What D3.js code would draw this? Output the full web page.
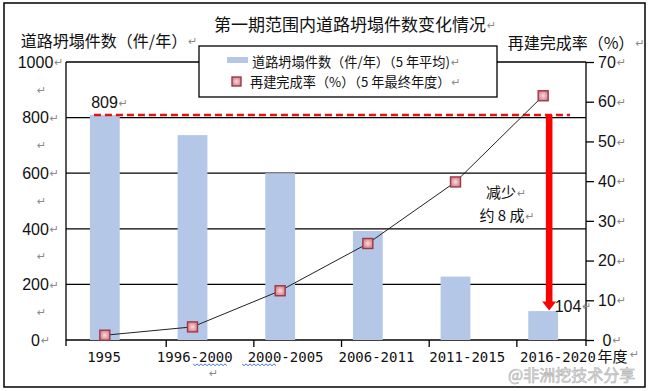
<!DOCTYPE html>
<html>
<head>
<meta charset="utf-8">
<script src="https://cdn.jsdelivr.net/npm/d3@7"></script>
<style>
  body { margin: 0; background: #fff; }
  svg text { font-family: "Liberation Sans", "Noto Sans CJK SC", sans-serif; fill: #111; }
  .cjk { font-family: "Noto Sans CJK SC", "Noto Sans CJK JP", sans-serif; }
  .mono { font-family: "DejaVu Sans Mono", "Noto Sans CJK SC", monospace; }
  .pil { fill: #8a8a8a; font-family: "DejaVu Sans", sans-serif; font-size: 11px; }
  .grid { stroke: #000; stroke-width: 1.3; }
</style>
</head>
<body>
<div id="chart"></div>
<script>
const categories = ["1995", "1996-2000", "2000-2005", "2006-2011", "2011-2015", "2016-2020"];
const collapseCounts = [809, 737, 600, 392, 228, 104];   // 件/年, 5年平均
const rebuildRates = [1.2, 3.3, 12.4, 24.3, 39.8, 61.5]; // %, 5年最終年度
const leftTicks = [0, 200, 400, 600, 800, 1000];
const leftBlankTicks = [100, 300, 500, 700, 900];
const rightTicks = [0, 10, 20, 30, 40, 50, 60, 70];

const width = 655, height = 391;
const plot = { left: 66, right: 586, top: 62, bottom: 340 };

const svg = d3.select("#chart").append("svg").attr("width", width).attr("height", height);

const defs = svg.append("defs");
const grad = defs.append("radialGradient").attr("id", "markerFill");
grad.append("stop").attr("offset", "0%").attr("stop-color", "#f8dadc");
grad.append("stop").attr("offset", "100%").attr("stop-color", "#d9848e");

// outer frame
svg.append("rect")
  .attr("x", 4).attr("y", 3).attr("width", 641).attr("height", 384)
  .attr("fill", "none").attr("stroke", "#000").attr("stroke-width", 1.5);

const x = d3.scaleBand().domain(categories).range([61, 587]).paddingInner(0.66).paddingOuter(0.33);
const xLabel = d3.scalePoint().domain(categories).range([104, 558]);
const yL = d3.scaleLinear().domain([0, 1000]).range([plot.bottom, plot.top]);
const yR = d3.scaleLinear().domain([0, 70]).range([plot.bottom, plot.top]);

// gridlines
svg.append("g").selectAll("line").data(leftTicks).join("line")
  .attr("class", "grid")
  .attr("x1", plot.left).attr("x2", plot.right)
  .attr("y1", (d) => yL(d)).attr("y2", (d) => yL(d));

// bars
svg.append("g").selectAll("rect").data(categories).join("rect")
  .attr("x", (d) => x(d))
  .attr("y", (d, i) => yL(collapseCounts[i]))
  .attr("width", x.bandwidth())
  .attr("height", (d, i) => yL(0) - yL(collapseCounts[i]))
  .attr("fill", "#b4c7e7");

// axes lines
svg.append("line").attr("class", "grid")
  .attr("x1", plot.left).attr("x2", plot.left).attr("y1", plot.top).attr("y2", plot.bottom + 6);
svg.append("line").attr("class", "grid")
  .attr("x1", plot.right).attr("x2", plot.right).attr("y1", plot.top).attr("y2", plot.bottom + 6);

// bottom tick marks
const tickXs = categories.slice(0, 5).map((c) => x(c) + x.step() * 0.87);
svg.append("g").selectAll("line").data(tickXs).join("line")
  .attr("class", "grid")
  .attr("x1", (d) => d).attr("x2", (d) => d)
  .attr("y1", plot.bottom).attr("y2", plot.bottom + 7);

// right axis
const yAxisR = d3.axisRight(yR).tickValues(rightTicks).tickSize(8).tickFormat("");
const gR = svg.append("g").attr("transform", `translate(${plot.right},0)`).call(yAxisR);
gR.select(".domain").remove();
gR.selectAll("line").attr("stroke", "#000").attr("stroke-width", 1.3);

function withReturn(sel, cx, cy, txt, size, cls) {
  const t = sel.append("text")
    .attr("x", cx).attr("y", cy).attr("dy", "0.36em")
    .attr("text-anchor", "middle")
    .attr("font-size", size)
    .attr("class", cls || null)
    .text(txt);
  const w = t.node().getComputedTextLength();
  sel.append("text").attr("class", "pil")
    .attr("x", cx + w / 2 + 1).attr("y", cy).attr("dy", "0.38em").text("↵");
  return w;
}

const labels = svg.append("g");
rightTicks.forEach((v) => withReturn(labels, 607, yR(v), String(v), 16));
leftTicks.forEach((v) => withReturn(labels, 35.5, yL(v), String(v), 16));
leftBlankTicks.forEach((v) => {
  labels.append("text").attr("class", "pil")
    .attr("x", 37).attr("y", yL(v)).attr("dy", "0.35em").text("↵");
});

// x labels
categories.forEach((c, i) => {
  const t = labels.append("text")
    .attr("class", "mono")
    .attr("x", xLabel(c)).attr("y", 357).attr("dy", "0.36em")
    .attr("text-anchor", "middle").attr("font-size", 14).text(c);
  if (i === categories.length - 1) {
    const w = t.node().getComputedTextLength();
    labels.append("text").attr("class", "cjk")
      .attr("x", xLabel(c) + w / 2 + 1.5).attr("y", 357).attr("dy", "0.36em")
      .attr("font-size", 15).text("年度");
    labels.append("text").attr("class", "pil")
      .attr("x", xLabel(c) + w / 2 + 34).attr("y", 354).attr("dy", "0.36em").text("↵");
  }
});
labels.append("text").attr("class", "pil").attr("x", 209).attr("y", 373).attr("dy", "0.35em").text("↵");

// spell-check squiggles
[[193, 227], [242, 277]].forEach(([a, b]) => {
  const pts = d3.range(a, b + 1, 2).map((px, k) => [px, 364.5 + (k % 2 ? 1.2 : -0.6)]);
  svg.append("path").attr("d", d3.line()(pts))
    .attr("fill", "none").attr("stroke", "#4a7fd8").attr("stroke-width", 1);
});

// 809 reference dashed line
const topY = yL(collapseCounts[0]);
svg.append("line")
  .attr("x1", x(categories[0]) + 4).attr("x2", x(categories[5]) + x.bandwidth() + 12)
  .attr("y1", topY).attr("y2", topY)
  .attr("stroke", "#e81010").attr("stroke-width", 2.5).attr("stroke-dasharray", "7,4");

// line series
const cx = (c) => x(c) + x.bandwidth() / 2;
svg.append("path")
  .datum(categories)
  .attr("d", d3.line().x((d) => cx(d)).y((d, i) => yR(rebuildRates[i])))
  .attr("fill", "none").attr("stroke", "#222").attr("stroke-width", 1);

svg.append("g").selectAll("rect").data(categories).join("rect")
  .attr("x", (d) => cx(d) - 5).attr("y", (d, i) => yR(rebuildRates[i]) - 5)
  .attr("width", 10).attr("height", 10)
  .attr("fill", "url(#markerFill)").attr("stroke", "#9a3a48").attr("stroke-width", 1.4);

// red arrow
const ax = cx(categories[5]) + 6;
const tipY = yL(collapseCounts[5]) - 0.5;
svg.append("rect")
  .attr("x", ax - 3.3).attr("y", topY).attr("width", 6.6).attr("height", tipY - 8 - topY)
  .attr("fill", "#ff0000");
svg.append("path")
  .attr("d", `M${ax - 7},${tipY - 9} L${ax + 7},${tipY - 9} L${ax},${tipY} Z`)
  .attr("fill", "#ff0000");

// value labels
withReturn(labels, 104.5, 102.5, "809", 16);
withReturn(labels, 568, 306, "104", 16);

// annotation
const ann = svg.append("g").attr("class", "cjk");
withReturn(ann, 501, 193, "减少", 15, "cjk");
withReturn(ann, 502, 216, "约 8 成", 15, "cjk");

// titles
withReturn(svg, 350, 25, "第一期范围内道路坍塌件数变化情况", 17, "cjk");
withReturn(svg, 104, 41, "道路坍塌件数（件/年）", 16, "cjk");
withReturn(svg, 571, 43, "再建完成率（%）", 16, "cjk");

// legend
const lg = svg.append("g");
lg.append("rect").attr("x", 199).attr("y", 46).attr("width", 298).attr("height", 51)
  .attr("fill", "#fff").attr("stroke", "#000").attr("stroke-width", 1.3);
lg.append("rect").attr("x", 227).attr("y", 57).attr("width", 21).attr("height", 6).attr("fill", "#b4c7e7");
lg.append("rect").attr("x", 232).attr("y", 77).attr("width", 9).attr("height", 9)
  .attr("fill", "url(#markerFill)").attr("stroke", "#9a3a48").attr("stroke-width", 1.4);
const l1 = lg.append("text").attr("class", "cjk").attr("x", 252).attr("y", 62).attr("dy", "0.36em")
  .attr("font-size", 13.2).text("道路坍塌件数（件/年）（5 年平均)");
lg.append("text").attr("class", "pil").attr("x", 252 + l1.node().getComputedTextLength() + 1)
  .attr("y", 62).attr("dy", "0.38em").text("↵");
const l2 = lg.append("text").attr("class", "cjk").attr("x", 250).attr("y", 82).attr("dy", "0.36em")
  .attr("font-size", 13.2).text("再建完成率（%）（5 年最终年度）");
lg.append("text").attr("class", "pil").attr("x", 250 + l2.node().getComputedTextLength() + 1)
  .attr("y", 82).attr("dy", "0.38em").text("↵");

// watermark
svg.append("text").attr("class", "cjk")
  .attr("x", 508).attr("y", 375).attr("dy", "0.36em").attr("font-size", 16)
  .attr("stroke", "#a8a8a8").attr("stroke-width", 0.6)
  .style("fill", "#e6e6e6").attr("opacity", 0.9)
  .text("@非洲挖技术分享");
</script>
</body>
</html>
